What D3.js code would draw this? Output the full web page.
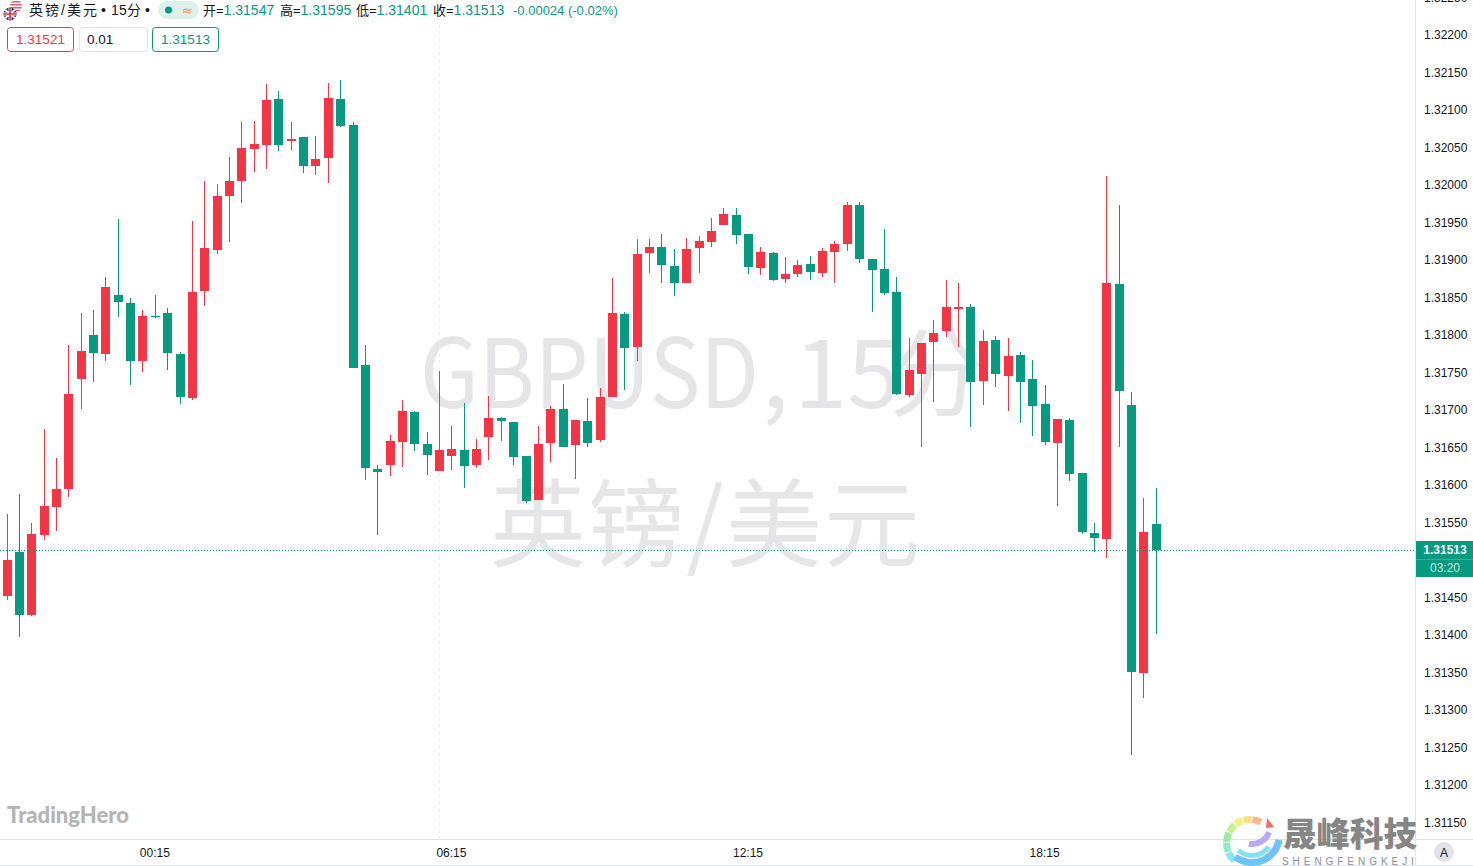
<!DOCTYPE html>
<html>
<head>
<meta charset="utf-8">
<script src="https://cdn.jsdelivr.net/npm/d3@7"></script>
<style>
  html, body { margin: 0; padding: 0; background: #fff; overflow: hidden; }
  svg { display: block; }
  .ui { font-family: "Liberation Sans", "Noto Sans CJK SC", sans-serif; }
  .wm { font-family: "Noto Sans CJK SC", "Noto Sans", sans-serif; fill: #e6e6e8; }
</style>
</head>
<body>
<div id="chart"></div>
<script>
const opens = [
  1.31451, 1.31510, 1.31426, 1.31533, 1.31570, 1.31594, 1.31741, 1.31799, 1.31774, 1.31853,
  1.31842, 1.31765, 1.31825, 1.31829, 1.31774, 1.31715, 1.31858, 1.31913, 1.31985, 1.32005,
  1.32047, 1.32053, 1.32114, 1.32058, 1.32063, 1.32025, 1.32035, 1.32114, 1.32079, 1.31759,
  1.31621, 1.31626, 1.31657, 1.31697, 1.31654, 1.31618, 1.31638, 1.31646, 1.31626, 1.31663,
  1.31689, 1.31683, 1.31638, 1.31579, 1.31655, 1.31701, 1.31653, 1.31685, 1.31659, 1.31717,
  1.31827, 1.31783, 1.31909, 1.31917, 1.31891, 1.31869, 1.31915, 1.31923, 1.31946, 1.31959,
  1.31934, 1.31889, 1.31909, 1.31874, 1.31881, 1.31894, 1.31882, 1.31910, 1.31921, 1.31973,
  1.31901, 1.31887, 1.31857, 1.31719, 1.31747, 1.31790, 1.31805, 1.31834, 1.31837, 1.31738,
  1.31793, 1.31745, 1.31773, 1.31741, 1.31707, 1.31655, 1.31686, 1.31615, 1.31535, 1.31527,
  1.31867, 1.31706, 1.31349, 1.31547
];
const highs = [
  1.31561, 1.31587, 1.31549, 1.31674, 1.31635, 1.31786, 1.31829, 1.31833, 1.31877, 1.31954,
  1.31849, 1.31833, 1.31853, 1.31835, 1.31777, 1.31951, 1.32005, 1.32001, 1.32037, 1.32083,
  1.32085, 1.32134, 1.32125, 1.32083, 1.32063, 1.32065, 1.32135, 1.32139, 1.32083, 1.31786,
  1.31626, 1.31666, 1.31713, 1.31698, 1.31670, 1.31751, 1.31678, 1.31709, 1.31661, 1.31718,
  1.31690, 1.31683, 1.31638, 1.31678, 1.31705, 1.31734, 1.31686, 1.31715, 1.31729, 1.31875,
  1.31830, 1.31927, 1.31927, 1.31934, 1.31914, 1.31929, 1.31931, 1.31955, 1.31969, 1.31969,
  1.31934, 1.31917, 1.31910, 1.31903, 1.31899, 1.31905, 1.31915, 1.31925, 1.31977, 1.31977,
  1.31901, 1.31941, 1.31877, 1.31795, 1.31789, 1.31819, 1.31873, 1.31869, 1.31841, 1.31806,
  1.31798, 1.31795, 1.31777, 1.31766, 1.31733, 1.31687, 1.31689, 1.31615, 1.31549, 1.32011,
  1.31973, 1.31723, 1.31582, 1.31595
];
const lows = [
  1.31446, 1.31397, 1.31425, 1.31526, 1.31538, 1.31583, 1.31701, 1.31737, 1.31765, 1.31823,
  1.31733, 1.31750, 1.31822, 1.31753, 1.31707, 1.31713, 1.31838, 1.31907, 1.31923, 1.31975,
  1.32017, 1.32021, 1.32045, 1.32046, 1.32015, 1.32013, 1.32002, 1.32077, 1.31755, 1.31606,
  1.31533, 1.31611, 1.31623, 1.31645, 1.31613, 1.31618, 1.31619, 1.31595, 1.31622, 1.31633,
  1.31658, 1.31626, 1.31575, 1.31579, 1.31630, 1.31650, 1.31607, 1.31650, 1.31657, 1.31717,
  1.31726, 1.31765, 1.31882, 1.31869, 1.31851, 1.31869, 1.31882, 1.31917, 1.31946, 1.31921,
  1.31881, 1.31879, 1.31871, 1.31869, 1.31877, 1.31873, 1.31877, 1.31869, 1.31911, 1.31895,
  1.31830, 1.31853, 1.31719, 1.31717, 1.31650, 1.31710, 1.31797, 1.31783, 1.31677, 1.31706,
  1.31730, 1.31698, 1.31682, 1.31665, 1.31653, 1.31571, 1.31605, 1.31534, 1.31510, 1.31502,
  1.31650, 1.31239, 1.31315, 1.31401
];
const closes = [
  1.31499, 1.31426, 1.31534, 1.31571, 1.31594, 1.31721, 1.31778, 1.31775, 1.31863, 1.31843,
  1.31765, 1.31825, 1.31823, 1.31775, 1.31717, 1.31857, 1.31915, 1.31985, 1.32005, 1.32049,
  1.32054, 1.32113, 1.32053, 1.32061, 1.32025, 1.32034, 1.32115, 1.32078, 1.31755, 1.31622,
  1.31617, 1.31658, 1.31698, 1.31654, 1.31639, 1.31646, 1.31647, 1.31625, 1.31647, 1.31689,
  1.31685, 1.31637, 1.31578, 1.31654, 1.31701, 1.31650, 1.31686, 1.31655, 1.31717, 1.31829,
  1.31782, 1.31907, 1.31917, 1.31893, 1.31869, 1.31914, 1.31925, 1.31938, 1.31961, 1.31933,
  1.31890, 1.31910, 1.31873, 1.31881, 1.31893, 1.31883, 1.31911, 1.31921, 1.31973, 1.31901,
  1.31886, 1.31855, 1.31721, 1.31753, 1.31789, 1.31802, 1.31837, 1.31837, 1.31737, 1.31791,
  1.31747, 1.31771, 1.31737, 1.31705, 1.31657, 1.31687, 1.31614, 1.31537, 1.31529, 1.31869,
  1.31725, 1.31350, 1.31537, 1.31513
];
// 1.315 sits under the last price label in the reference, so it is left out
const priceTicks = [
  1.3225, 1.322, 1.3215, 1.321, 1.3205, 1.32, 1.3195, 1.319, 1.3185, 1.318, 1.3175, 1.317,
  1.3165, 1.316, 1.3155, 1.3145, 1.314, 1.3135, 1.313, 1.3125, 1.312, 1.3115
];
const timeTickBars = [12, 36, 60, 84];
const timeTickLabels = ["00:15", "06:15", "12:15", "18:15"];
const sessionBar = 35;
const lastPrice = 1.31513;
const ohlcLabels = ["开=", "高=", "低=", "收="];
const ohlcValues = ["1.31547", "1.31595", "1.31401", "1.31513"];

const width = 1473;
const height = 866;
const axisX = 1415;
const axisY = 839;
const upColor = "#f23645";
const downColor = "#089981";

const bars = d3.range(opens.length).map(i => ({
  i, open: opens[i], high: highs[i], low: lows[i], close: closes[i]
}));

const xScale = d3.scaleLinear().domain([0, bars.length - 1]).range([6.51, 1155.804]);
const yScale = d3.scaleLinear().domain([1.3115, 1.322]).range([822, 34.5]);
const col = i => Math.round(xScale(i));
const row = v => Math.round(yScale(v));

const svg = d3.select("#chart").append("svg")
  .attr("width", width)
  .attr("height", height)
  .attr("viewBox", `0 0 ${width} ${height}`);

// watermark sits under everything else
const wmParts = [
  { x: 420, text: "GBPUSD", len: 339 },
  { x: 762, text: "," },
  { x: 794, text: "15" },
  { x: 888, text: "分" }
];
svg.append("g").selectAll("text")
  .data(wmParts)
  .join("text")
    .attr("class", "wm")
    .attr("x", d => d.x)
    .attr("y", 408)
    .attr("textLength", d => d.len || null)
    .attr("lengthAdjust", "spacingAndGlyphs")
    .style("font-size", "96px")
    .text(d => d.text);
svg.append("text").attr("class", "wm")
  .attr("x", 490).attr("y", 559)
  .attr("textLength", 430)
  .style("font-size", "96px")
  .text("英镑/美元");

// session break
svg.append("line")
  .attr("x1", col(sessionBar) + 0.5).attr("x2", col(sessionBar) + 0.5)
  .attr("y1", 24).attr("y2", axisY)
  .attr("stroke", "#eceef1")
  .attr("stroke-dasharray", "4 3");

// candles
const colorOf = d => d.close >= d.open ? upColor : downColor;

svg.append("g").selectAll("rect")
  .data(bars)
  .join("rect")
    .attr("x", d => col(d.i))
    .attr("y", d => row(d.high))
    .attr("width", 1)
    .attr("height", d => Math.max(1, row(d.low) - row(d.high)))
    .attr("fill", colorOf)
    .attr("shape-rendering", "crispEdges");

svg.append("g").selectAll("rect")
  .data(bars)
  .join("rect")
    .attr("x", d => col(d.i) - 4)
    .attr("y", d => row(Math.max(d.open, d.close)))
    .attr("width", 9)
    .attr("height", d => Math.max(1, row(Math.min(d.open, d.close)) - row(Math.max(d.open, d.close))))
    .attr("fill", colorOf)
    .attr("shape-rendering", "crispEdges");

// last price line
svg.append("line")
  .attr("x1", 0).attr("x2", axisX)
  .attr("y1", row(lastPrice) + 0.5).attr("y2", row(lastPrice) + 0.5)
  .attr("stroke", downColor)
  .attr("stroke-dasharray", "1 2");

// price axis
const yAxis = d3.axisRight(yScale)
  .tickValues(priceTicks)
  .tickSize(0)
  .tickPadding(0)
  .tickFormat(d3.format(".5f"));

const yAxisG = svg.append("g")
  .attr("class", "ui")
  .attr("transform", "translate(1424, 0.5)")
  .call(yAxis);
yAxisG.select(".domain").remove();
yAxisG.selectAll("text")
  .style("font-size", "12px")
  .attr("fill", "#131722");

// time axis
const xAxis = d3.axisBottom(xScale)
  .tickValues(timeTickBars)
  .tickSize(0)
  .tickPadding(0)
  .tickFormat((d, i) => timeTickLabels[i]);

const xAxisG = svg.append("g")
  .attr("class", "ui")
  .attr("transform", `translate(-0.5, ${axisY + 9})`)
  .call(xAxis);
xAxisG.select(".domain").remove();
xAxisG.selectAll("text")
  .style("font-size", "12px")
  .attr("fill", "#131722");

// axis frame
svg.append("line").attr("x1", axisX + 0.5).attr("x2", axisX + 0.5).attr("y1", 0).attr("y2", height)
  .attr("stroke", "#e0e3eb");
svg.append("line").attr("x1", 0).attr("x2", width).attr("y1", axisY + 0.5).attr("y2", axisY + 0.5)
  .attr("stroke", "#e0e3eb");
svg.append("line").attr("x1", 0).attr("x2", width).attr("y1", 865.5).attr("y2", 865.5)
  .attr("stroke", "#e0e3eb");

// price label
svg.append("rect")
  .attr("x", axisX + 1).attr("y", 541)
  .attr("width", width - axisX - 1).attr("height", 36)
  .attr("fill", downColor);
svg.append("line")
  .attr("x1", axisX + 1).attr("x2", width).attr("y1", 559.5).attr("y2", 559.5)
  .attr("stroke", "#3aad9a");
svg.append("text").attr("class", "ui")
  .attr("x", 1445).attr("y", 554)
  .attr("text-anchor", "middle")
  .attr("fill", "#fff")
  .style("font-size", "12px")
  .style("font-weight", "bold")
  .text(d3.format(".5f")(lastPrice));
svg.append("text").attr("class", "ui")
  .attr("x", 1445).attr("y", 572)
  .attr("text-anchor", "middle")
  .attr("fill", "#c4e8e1")
  .style("font-size", "12px")
  .text("03:20");

// "A" button
svg.append("circle").attr("cx", 1444).attr("cy", 852).attr("r", 10).attr("fill", "#e0e3eb");
svg.append("text").attr("class", "ui")
  .attr("x", 1444).attr("y", 856.5)
  .attr("text-anchor", "middle")
  .attr("fill", "#131722")
  .style("font-size", "12px")
  .text("A");

// legend row
const legend = svg.append("g").attr("class", "ui").style("font-size", "14px");
legend.append("text").attr("x", 29).attr("y", 15).attr("fill", "#131722")
  .attr("textLength", 68).text("英镑/美元");
legend.append("text").attr("x", 101).attr("y", 15).attr("fill", "#131722").text("•");
legend.append("text").attr("x", 111).attr("y", 15).attr("fill", "#131722")
  .attr("textLength", 30).text("15分");
legend.append("text").attr("x", 145).attr("y", 15).attr("fill", "#131722").text("•");
legend.append("rect").attr("x", 158).attr("y", 1).attr("width", 41).attr("height", 18).attr("rx", 9).attr("fill", "#dcf0ec");
legend.append("circle").attr("cx", 168.5).attr("cy", 10).attr("r", 3.5).attr("fill", downColor);
legend.append("text").attr("x", 187.5).attr("y", 15)
  .attr("text-anchor", "middle")
  .attr("fill", "#f7a35c")
  .style("font-family", "'DejaVu Sans', sans-serif")
  .style("font-size", "13px")
  .style("font-weight", "bold")
  .text("≈");

const ohlcX = [203, 280, 356, 433];
ohlcLabels.forEach((label, i) => {
  const t = legend.append("text").attr("x", ohlcX[i]).attr("y", 15).attr("fill", "#131722");
  t.append("tspan").style("font-size", "13px").text(label);
  t.append("tspan").attr("fill", downColor).text(ohlcValues[i]);
});
legend.append("text").attr("x", 513).attr("y", 15).attr("fill", downColor)
  .style("font-size", "13px")
  .text("-0.00024 (-0.02%)");

// order boxes
const boxes = [
  { x: 7.5, w: 66, text: "1.31521", stroke: upColor, fill: upColor, tx: 40.5, anchor: "middle" },
  { x: 79.5, w: 68, text: "0.01", stroke: "#e0e3eb", fill: "#131722", tx: 87, anchor: "start" },
  { x: 152.5, w: 66, text: "1.31513", stroke: downColor, fill: downColor, tx: 185.5, anchor: "middle" }
];
const boxG = svg.append("g").attr("class", "ui").selectAll("g").data(boxes).join("g");
boxG.append("rect")
  .attr("x", d => d.x).attr("y", 27.5)
  .attr("width", d => d.w).attr("height", 24)
  .attr("rx", 3)
  .attr("fill", "#fff")
  .attr("stroke", d => d.stroke);
boxG.append("text")
  .attr("x", d => d.tx).attr("y", 44)
  .attr("text-anchor", d => d.anchor)
  .attr("fill", d => d.fill)
  .style("font-size", "13.5px")
  .text(d => d.text);

// flags in the legend
const flag = svg.append("g");
svg.append("clipPath").attr("id", "usClip").append("circle").attr("cx", 16).attr("cy", 6).attr("r", 6);
svg.append("clipPath").attr("id", "ukClip").append("circle").attr("cx", 10).attr("cy", 14).attr("r", 6.5);
const us = flag.append("g").attr("clip-path", "url(#usClip)");
us.append("rect").attr("x", 9).attr("y", 0).attr("width", 14).attr("height", 13).attr("fill", "#f4f4f4");
[1, 4, 7, 10].forEach(y => {
  us.append("rect").attr("x", 9).attr("y", y).attr("width", 14).attr("height", 1.5).attr("fill", "#e0606a");
});
const uk = flag.append("g").attr("clip-path", "url(#ukClip)");
uk.append("rect").attr("x", 3).attr("y", 7).attr("width", 14).attr("height", 14).attr("fill", "#23306e");
uk.append("path").attr("d", "M3 8L17 20M17 8L3 20").attr("stroke", "#fff").attr("stroke-width", 2);
uk.append("path").attr("d", "M10 7V21M3 14H17").attr("stroke", "#fff").attr("stroke-width", 3);
uk.append("path").attr("d", "M10 7V21M3 14H17").attr("stroke", "#d8303c").attr("stroke-width", 1.6);

// logos
svg.append("text")
  .attr("x", 7).attr("y", 823)
  .attr("fill", "#b4b4b4")
  .style("font-family", "Lato, sans-serif")
  .style("font-weight", "900")
  .style("font-size", "22px")
  .text("TradingHero");

// swirl mark: [centre x, centre y, inner r, outer r, start deg, end deg, colour]
const swirlSegments = [
  [1250, 843, 20, 27, 6, 28, "#f9b98a"],
  [1250, 843, 20, 27, -16, 4, "#fbe08a"],
  [1250, 843, 20, 27, -38, -18, "#f4f08c"],
  [1250, 843, 20, 27, -62, -40, "#c8f08e"],
  [1250, 843, 20, 27, -88, -64, "#9cee9e"],
  [1250, 843, 20, 27, -112, -90, "#8eeccb"],
  [1250, 843, 20, 27, -138, -114, "#86e8ee"],
  [1252, 835, 24, 31, 100, 218, "#6ec4f6"],
  [1252, 835, 18, 23, 125, 222, "#86e0f2"],
  [1252, 826, 15, 21, 110, 190, "#b9a8f5"]
];
const swirlArc = d3.arc();
svg.append("g").selectAll("path")
  .data(swirlSegments)
  .join("path")
    .attr("transform", d => `translate(${d[0]}, ${d[1]})`)
    .attr("fill", d => d[6])
    .attr("d", d => swirlArc({
      innerRadius: d[2], outerRadius: d[3],
      startAngle: d[4] * Math.PI / 180, endAngle: d[5] * Math.PI / 180
    }));
svg.append("path").attr("d", "M1267 818L1274 827L1266 828Z").attr("fill", "#f66a6a");

svg.append("text")
  .attr("x", 1283).attr("y", 846)
  .attr("fill", "#868686")
  .style("font-family", "'Noto Sans CJK SC', sans-serif")
  .style("font-weight", "900")
  .style("font-size", "33.5px")
  .text("晟峰科技");
svg.append("text")
  .attr("x", 1282).attr("y", 865)
  .attr("fill", "#8e8e8e")
  .style("font-family", "'Liberation Sans', sans-serif")
  .style("font-size", "10px")
  .style("letter-spacing", "3.95px")
  .text("SHENGFENGKEJI");

</script>
</body>
</html>
